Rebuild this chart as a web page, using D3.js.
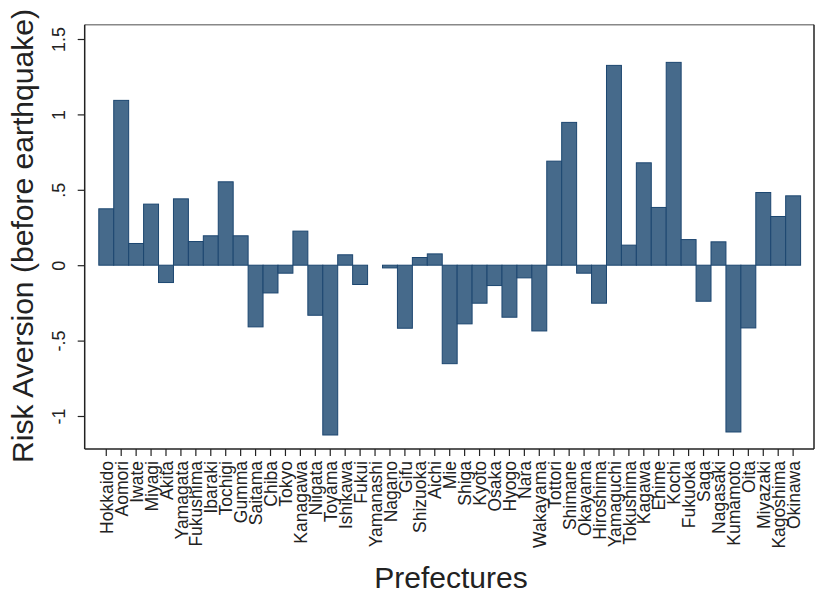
<!DOCTYPE html>
<html>
<head>
<meta charset="utf-8">
<script src="https://cdn.jsdelivr.net/npm/d3@7"></script>
<style>
  body { margin: 0; background: #fff; }
  text { font-family: 'Liberation Sans', Arial, sans-serif; fill: #222; }
</style>
</head>
<body>
<svg id="chart"></svg>
<script>
// prefectures in the order of the x axis
const prefectures = [
  'Hokkaido', 'Aomori', 'Iwate', 'Miyagi', 'Akita', 'Yamagata', 'Fukushima',
  'Ibaraki', 'Tochigi', 'Gumma', 'Saitama', 'Chiba', 'Tokyo', 'Kanagawa',
  'Niigata', 'Toyama', 'Ishikawa', 'Fukui', 'Yamanashi', 'Nagano', 'Gifu',
  'Shizuoka', 'Aichi', 'Mie', 'Shiga', 'Kyoto', 'Osaka', 'Hyogo', 'Nara',
  'Wakayama', 'Tottori', 'Shimane', 'Okayama', 'Hiroshima', 'Yamaguchi',
  'Tokushima', 'Kagawa', 'Ehime', 'Kochi', 'Fukuoka', 'Saga', 'Nagasaki',
  'Kumamoto', 'Oita', 'Miyazaki', 'Kagoshima', 'Okinawa',
];

// risk aversion before the earthquake
const riskAversion = [
  0.374, 1.093, 0.144, 0.405, -0.115, 0.44, 0.157,
  0.195, 0.553, 0.195, -0.409, -0.184, -0.053, 0.226,
  -0.332, -1.126, 0.069, -0.128, 0, -0.018, -0.418,
  0.051, 0.075, -0.653, -0.389, -0.252, -0.135, -0.345, -0.084,
  -0.436, 0.69, 0.947, -0.053, -0.252, 1.325,
  0.133, 0.679, 0.383, 1.345, 0.17, -0.239, 0.155,
  -1.106, -0.416, 0.482, 0.323, 0.46,
];

const yTicks = [1.5, 1, 0.5, 0, -0.5, -1];
const yTickLabels = ['1.5', '1', '.5', '0', '-.5', '-1'];

const W = 817, H = 602;
const frame = { left: 84.7, right: 814, top: 24.7, bottom: 449 };

const svg = d3.select('#chart').attr('width', W).attr('height', H);

const x = d3.scaleBand()
  .domain(prefectures)
  .range([98.8, 800.6])
  .padding(0);

const y = d3.scaleLinear()
  .domain([-1, 1.5])
  .range([416, 39]);

const data = prefectures.map((p, i) => ({ name: p, value: riskAversion[i] }));

// bars
svg.append('g')
  .selectAll('rect')
  .data(data)
  .join('rect')
  .attr('x', d => x(d.name))
  .attr('width', x.bandwidth())
  .attr('y', d => Math.min(y(d.value), y(0)))
  .attr('height', d => Math.abs(y(d.value) - y(0)))
  .attr('fill', '#466a8b')
  .attr('stroke', '#1c4670')
  .attr('stroke-width', 1);

// frame: top lighter
svg.append('line')
  .attr('x1', frame.left).attr('x2', frame.right)
  .attr('y1', frame.top).attr('y2', frame.top)
  .attr('stroke', '#888').attr('stroke-width', 1.5);
svg.append('line')
  .attr('x1', frame.right).attr('x2', frame.right)
  .attr('y1', frame.top).attr('y2', frame.bottom)
  .attr('stroke', '#222').attr('stroke-width', 1.5);

// y axis
const yAxis = d3.axisLeft(y)
  .tickValues(yTicks)
  .tickFormat((d, i) => yTickLabels[i])
  .tickSize(7)
  .tickSizeOuter(0);

const gy = svg.append('g')
  .attr('transform', `translate(${frame.left},0)`)
  .call(yAxis);
gy.select('.domain').remove();
gy.append('line')
  .attr('y1', frame.top).attr('y2', frame.bottom)
  .attr('stroke', '#222').attr('stroke-width', 1.5);
gy.selectAll('.tick line').attr('stroke', '#222').attr('stroke-width', 1.2);
gy.selectAll('.tick text')
  .attr('x', null).attr('dy', null)
  .attr('transform', 'translate(-20,0) rotate(-90)')
  .attr('text-anchor', 'middle')
  .style('font-size', '18px')
  .style('font-family', "'Liberation Sans', Arial, sans-serif")
  .attr('fill', '#222');

// x axis
const xAxis = d3.axisBottom(x).tickSize(7).tickSizeOuter(0);
const gx = svg.append('g')
  .attr('transform', `translate(0,${frame.bottom})`)
  .call(xAxis);
gx.select('.domain').remove();
gx.append('line')
  .attr('x1', frame.left).attr('x2', frame.right)
  .attr('stroke', '#222').attr('stroke-width', 1.5);
gx.selectAll('.tick line').attr('stroke', '#222').attr('stroke-width', 1.2);
gx.selectAll('.tick text')
  .attr('y', null).attr('dy', null)
  .attr('transform', 'translate(0.5,12) rotate(-90)')
  .attr('dy', '0.35em')
  .attr('text-anchor', 'end')
  .style('font-size', '17.5px')
  .style('font-family', "'Liberation Sans', Arial, sans-serif")
  .attr('fill', '#222');

// titles
svg.append('text')
  .attr('transform', 'translate(33,463) rotate(-90)')
  .attr('text-anchor', 'start')
  .attr('textLength', 454)
  .attr('lengthAdjust', 'spacingAndGlyphs')
  .style('font-size', '29px')
  .text('Risk Aversion (before earthquake)');

svg.append('text')
  .attr('x', 451)
  .attr('y', 588)
  .attr('text-anchor', 'middle')
  .style('font-size', '30px')
  .text('Prefectures');
</script>
</body>
</html>
